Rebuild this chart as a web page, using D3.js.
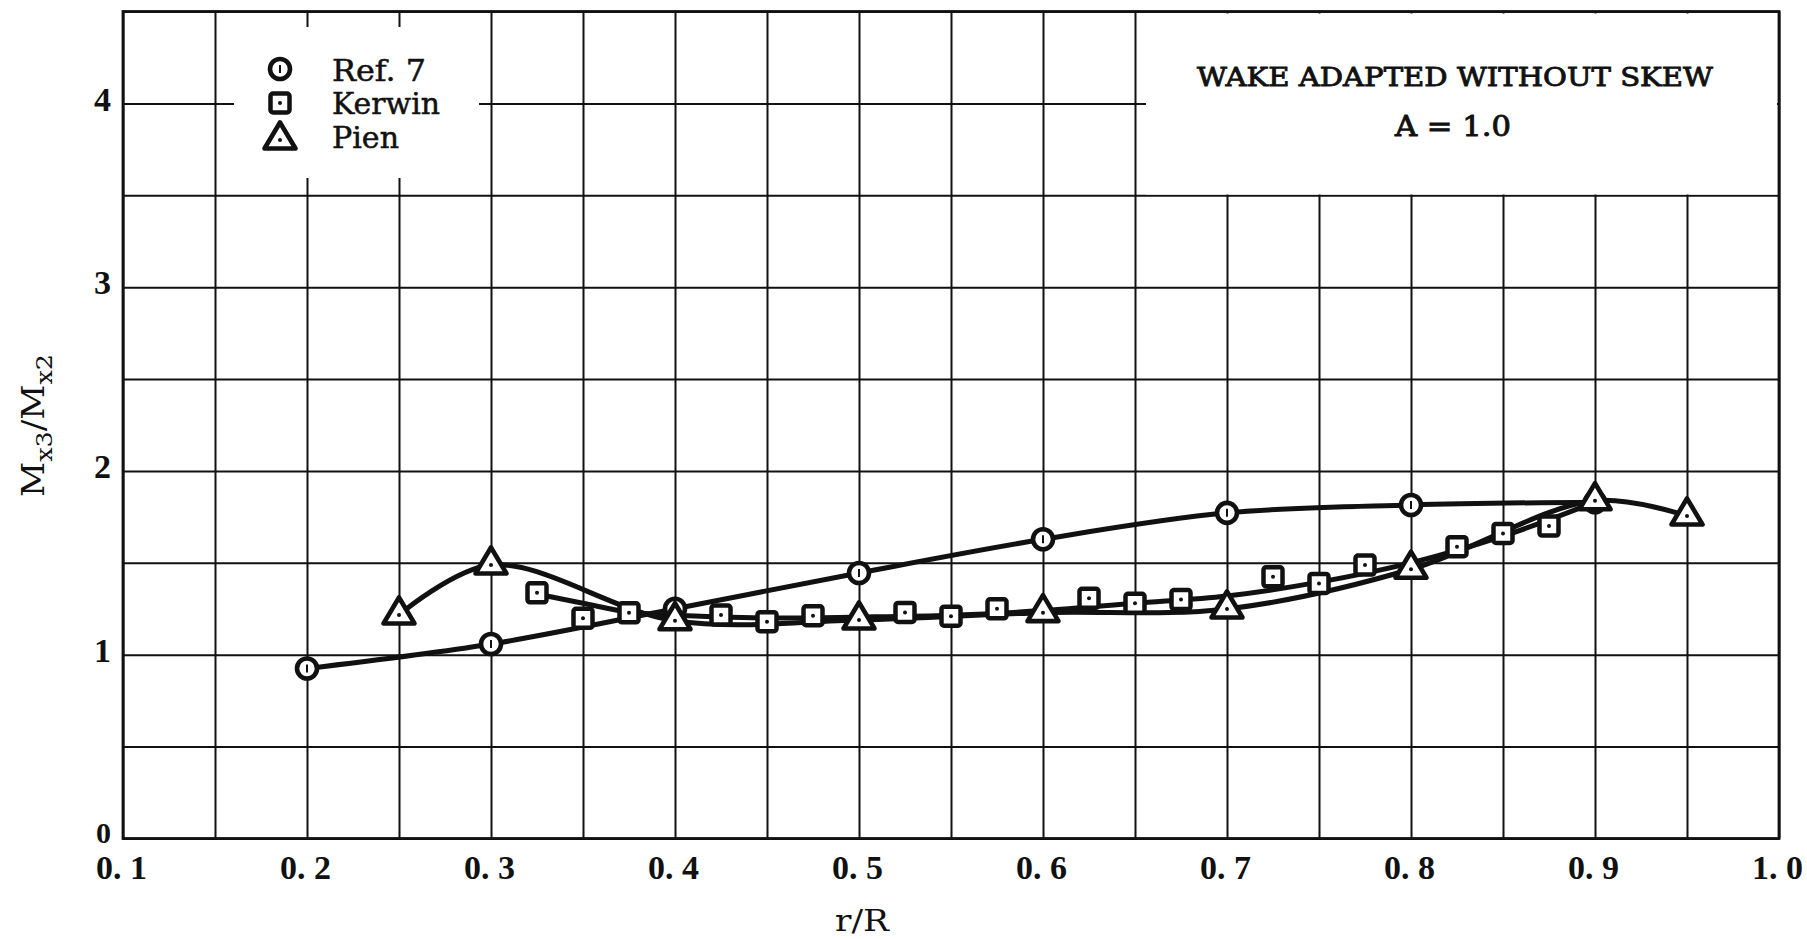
<!DOCTYPE html>
<html>
<head>
<meta charset="utf-8">
<script src="https://cdn.jsdelivr.net/npm/d3@7"></script>
<style>
  html, body { margin: 0; padding: 0; background: #fff; }
  svg { display: block; }
</style>
</head>
<body>
<svg id="chart" width="1807" height="939"></svg>
<script>
// ---- data ----
const xTickValues = [0.1, 0.2, 0.3, 0.4, 0.5, 0.6, 0.7, 0.8, 0.9, 1.0];
const xTickLabels = ["0. 1", "0. 2", "0. 3", "0. 4", "0. 5", "0. 6", "0. 7", "0. 8", "0. 9", "1. 0"];
const yTickValues = [0, 1, 2, 3, 4];
const yTickLabels = ["0", "1", "2", "3", "4"];

// Ref. 7 (circles)
const ref7R = [0.2, 0.3, 0.4, 0.5, 0.6, 0.7, 0.8, 0.9];
const ref7M = [0.925, 1.058, 1.25, 1.445, 1.628, 1.772, 1.815, 1.83];

// Kerwin (squares) and its faired curve
const kerwinR = [0.325, 0.35, 0.375, 0.425, 0.45, 0.475, 0.525, 0.55, 0.575,
                 0.625, 0.65, 0.675, 0.725, 0.75, 0.775, 0.825, 0.85, 0.875];
const kerwinM = [1.337, 1.198, 1.228, 1.216, 1.18, 1.212, 1.23, 1.21, 1.25,
                 1.307, 1.28, 1.30, 1.424, 1.388, 1.488, 1.588, 1.66, 1.70];
const kerwinCurveR = [0.325, 0.35, 0.375, 0.4, 0.45, 0.5, 0.55, 0.6, 0.65, 0.7, 0.75, 0.8, 0.85, 0.9];
const kerwinCurveM = [1.33, 1.28, 1.232, 1.215, 1.20, 1.205, 1.215, 1.24, 1.28, 1.32, 1.395, 1.50, 1.645, 1.83];

// Pien (triangles)
const pienR = [0.25, 0.3, 0.4, 0.5, 0.6, 0.7, 0.8, 0.9, 0.95];
const pienM = [1.216, 1.488, 1.185, 1.189, 1.229, 1.249, 1.465, 1.838, 1.755];

const legendLabels = ["Ref. 7", "Kerwin", "Pien"];
const titleLines = ["WAKE ADAPTED WITHOUT SKEW", "A = 1.0"];

// ---- scales ----
const x = d3.scaleLinear().domain([0.1, 1.0]).range([123, 1779]);
const y = d3.scaleLinear().domain([0, 4.5]).range([838.5, 11.5]);

const svg = d3.select("#chart");
const ink = "#111";

// ---- grid ----
const gridX = d3.range(0, 19).map(i => +(0.1 + i * 0.05).toFixed(2));
const gridY = d3.range(0, 10).map(i => i * 0.5);

svg.append("g")
  .attr("transform", `translate(0,${y(0)})`)
  .call(d3.axisBottom(x).tickValues(gridX).tickSize(-(y(0) - y(4.5))).tickFormat(""))
  .call(g => g.select(".domain").remove())
  .call(g => g.selectAll("line").attr("stroke", ink).attr("stroke-width", 2));

svg.append("g")
  .attr("transform", `translate(${x(0.1)},0)`)
  .call(d3.axisLeft(y).tickValues(gridY).tickSize(-(x(1.0) - x(0.1))).tickFormat(""))
  .call(g => g.select(".domain").remove())
  .call(g => g.selectAll("line").attr("stroke", ink).attr("stroke-width", 2));

// frame
svg.append("rect")
  .attr("x", x(0.1)).attr("y", y(4.5))
  .attr("width", x(1.0) - x(0.1)).attr("height", y(0) - y(4.5))
  .attr("fill", "none").attr("stroke", ink).attr("stroke-width", 2.8);

// blank panels for the key and the case label
svg.append("rect").attr("x", 234).attr("y", 27).attr("width", 245).attr("height", 151).attr("fill", "#fff");
svg.append("rect").attr("x", 1146).attr("y", 13.5).attr("width", 631).attr("height", 181).attr("fill", "#fff");

// ---- tick labels ----
svg.append("g")
  .attr("transform", `translate(0,${y(0)})`)
  .call(d3.axisBottom(x).tickValues(xTickValues).tickSize(0).tickPadding(0)
        .tickFormat((d, i) => xTickLabels[i]))
  .call(g => g.select(".domain").remove())
  .call(g => g.selectAll("text")
      .attr("y", 40).attr("dy", null).attr("dx", -2)
      .attr("fill", ink)
      .attr("font-family", "'Liberation Serif', serif")
      .attr("font-weight", "bold")
      .attr("font-size", 34));

svg.append("g")
  .attr("transform", `translate(${x(0.1)},0)`)
  .call(d3.axisLeft(y).tickValues(yTickValues).tickSize(0).tickPadding(0)
        .tickFormat((d, i) => yTickLabels[i]))
  .call(g => g.select(".domain").remove())
  .call(g => g.selectAll("text")
      .attr("x", -12)
      .attr("fill", ink)
      .attr("font-family", "'Liberation Serif', serif")
      .attr("font-weight", "bold")
      .attr("font-size", d => d === 0 ? 30 : 34)
      .attr("dy", d => d === 0 ? "0.12em" : "0.2em"));

// ---- axis titles ----
svg.append("text")
  .attr("x", 862).attr("y", 931)
  .attr("text-anchor", "middle")
  .attr("font-family", "'DejaVu Serif', serif")
  .attr("font-size", 30)
  .attr("fill", ink)
  .attr("textLength", 54).attr("lengthAdjust", "spacingAndGlyphs")
  .text("r/R");

const yTitle = svg.append("text")
  .attr("transform", "translate(44,497) rotate(-90)")
  .attr("font-family", "'DejaVu Serif', serif")
  .attr("fill", ink)
  .attr("textLength", 143)
  .attr("lengthAdjust", "spacingAndGlyphs");
yTitle.append("tspan").attr("font-size", 31).text("M");
yTitle.append("tspan").attr("font-size", 23).attr("dy", 8).text("x3");
yTitle.append("tspan").attr("font-size", 31).attr("dy", -8).text("/");
yTitle.append("tspan").attr("font-size", 31).text("M");
yTitle.append("tspan").attr("font-size", 23).attr("dy", 8).text("x2");

// ---- case label ----
svg.append("text")
  .attr("x", 1455).attr("y", 86)
  .attr("text-anchor", "middle")
  .attr("font-family", "'DejaVu Serif', serif")
  .attr("font-size", 26)
  .attr("fill", ink).attr("stroke", ink).attr("stroke-width", 0.9)
  .attr("textLength", 516).attr("lengthAdjust", "spacingAndGlyphs")
  .text(titleLines[0]);
svg.append("text")
  .attr("x", 1453).attr("y", 136)
  .attr("text-anchor", "middle")
  .attr("font-family", "'DejaVu Serif', serif")
  .attr("font-size", 28)
  .attr("fill", ink).attr("stroke", ink).attr("stroke-width", 0.9)
  .attr("textLength", 116).attr("lengthAdjust", "spacingAndGlyphs")
  .text(titleLines[1]);

// ---- curves ----
const line = d3.line()
  .x(d => x(d[0])).y(d => y(d[1]))
  .curve(d3.curveCatmullRom.alpha(0.5));

const zip = (a, b) => a.map((v, i) => [v, b[i]]);

const curves = svg.append("g")
  .attr("fill", "none").attr("stroke", ink)
  .attr("stroke-width", 5).attr("stroke-linejoin", "round").attr("stroke-linecap", "round");

curves.append("path").attr("d", line(zip(ref7R, ref7M)));
curves.append("path").attr("d", line(zip(kerwinCurveR, kerwinCurveM)));
curves.append("path").attr("d", line(zip(pienR, pienM)));

// ---- markers ----
const triPath = "M0,-17.5L15.5,8.5L-15.5,8.5Z";

function circleMark(g) {
  g.append("circle").attr("r", 10).attr("fill", "#fff").attr("stroke", ink).attr("stroke-width", 4.6);
  g.append("line").attr("x1", 0).attr("x2", 0).attr("y1", -4).attr("y2", 4)
    .attr("stroke", ink).attr("stroke-width", 2);
}
function squareMark(g) {
  g.append("rect").attr("x", -9.5).attr("y", -9.5).attr("width", 19).attr("height", 19)
    .attr("rx", 2.5).attr("fill", "#fff").attr("stroke", ink).attr("stroke-width", 4.5);
  g.append("circle").attr("r", 2).attr("fill", ink);
}
function triMark(g) {
  g.append("path").attr("d", triPath).attr("fill", "#fff").attr("stroke", ink)
    .attr("stroke-width", 4.6).attr("stroke-linejoin", "round");
  g.append("circle").attr("r", 2).attr("fill", ink);
}

svg.append("g").selectAll("g").data(zip(kerwinR, kerwinM)).join("g")
  .attr("transform", d => `translate(${x(d[0])},${y(d[1])})`)
  .each(function () { squareMark(d3.select(this)); });

svg.append("g").selectAll("g").data(zip(ref7R, ref7M)).join("g")
  .attr("transform", d => `translate(${x(d[0])},${y(d[1])})`)
  .each(function () { circleMark(d3.select(this)); });

svg.append("g").selectAll("g").data(zip(pienR, pienM)).join("g")
  .attr("transform", d => `translate(${x(d[0])},${y(d[1])})`)
  .each(function () { triMark(d3.select(this)); });

// ---- key ----
const key = svg.append("g");
const keyRows = [
  { label: legendLabels[0], mark: circleMark, my: 69, ty: 81, w: 94 },
  { label: legendLabels[1], mark: squareMark, my: 103, ty: 114, w: 108 },
  { label: legendLabels[2], mark: triMark, my: 140, ty: 148, w: 67 }
];
keyRows.forEach(r => {
  const g = key.append("g").attr("transform", `translate(280,${r.my})`);
  r.mark(g);
  key.append("text")
    .attr("x", 332).attr("y", r.ty)
    .attr("font-family", "'DejaVu Serif', serif")
    .attr("font-size", 29)
    .attr("fill", ink).attr("stroke", ink).attr("stroke-width", 0.5)
    .attr("textLength", r.w).attr("lengthAdjust", "spacingAndGlyphs")
    .text(r.label);
});
</script>
</body>
</html>
